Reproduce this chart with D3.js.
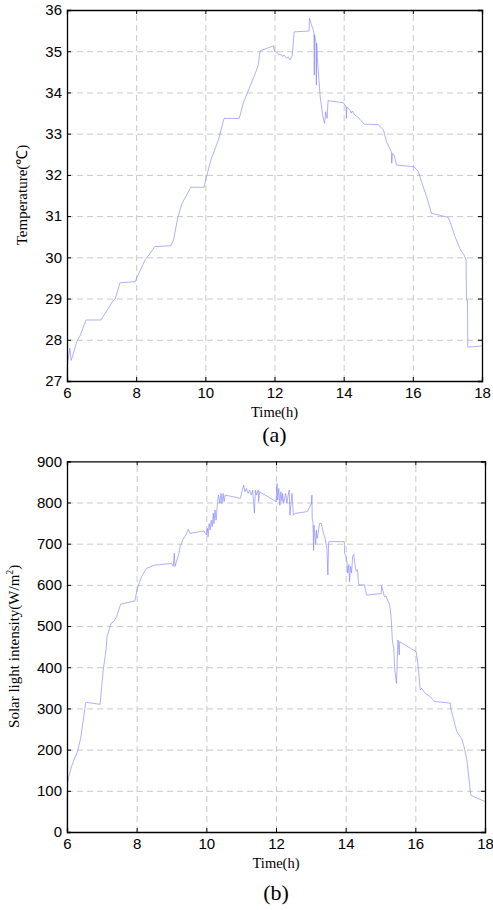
<!DOCTYPE html>
<html>
<head>
<meta charset="utf-8">
<script src="https://cdn.jsdelivr.net/npm/d3@7"></script>
<style>
  body { margin: 0; background: #fff; }
  svg { display: block; }
  .tick text { font-family: "Liberation Sans", Arial, sans-serif; font-size: 15px; fill: #000; }
  .grid line { stroke: #c8c8c8; stroke-dasharray: 6 4; stroke-width: 1; }
  .grid .domain { display: none; }
  .lbl { font-family: "Liberation Serif", "Times New Roman", serif; fill: #000; }
</style>
</head>
<body>
<div id="chart"></div>
<script>
// chart (a): temperature
var tempTime = [6.00, 6.01, 6.08, 6.12, 6.20, 6.28, 6.38, 6.55, 6.98, 7.15, 7.34, 7.40, 7.53, 7.97,
  8.10, 8.26, 8.30, 8.54, 9.00, 9.08, 9.20, 9.32, 9.58, 9.96, 10.06, 10.16, 10.38, 10.54, 10.98,
  11.10, 11.27, 11.48, 11.53, 11.58, 11.97, 12.00, 12.08, 12.12, 12.16, 12.22, 12.28, 12.35, 12.40,
  12.45, 12.51, 12.57, 13.00, 13.01, 13.07, 13.14, 13.15, 13.16, 13.20, 13.21, 13.22, 13.24, 13.32,
  13.40, 13.45, 13.48, 13.52, 13.55, 13.99, 14.07, 14.08, 14.09, 14.18, 14.22, 14.25, 14.32, 14.38,
  14.47, 14.59, 15.00, 15.15, 15.24, 15.38, 15.39, 15.41, 15.46, 15.53, 15.97, 16.03, 16.16, 16.25,
  16.40, 16.54, 17.02, 17.09, 17.22, 17.38, 17.48, 17.54, 17.55, 17.58, 17.59, 18.00]
var tempValue = [27.1, 27.4, 27.8, 27.5, 27.7, 27.95, 28.1, 28.48, 28.48, 28.7, 28.96, 29.0, 29.38, 29.41,
  29.65, 29.94, 29.98, 30.26, 30.28, 30.42, 30.95, 31.3, 31.7, 31.7, 32.04, 32.36, 32.85, 33.37, 33.37,
  33.75, 34.1, 34.54, 34.66, 35.01, 35.13, 34.99, 34.97, 34.92, 34.93, 34.88, 34.9, 34.83, 34.86,
  34.79, 34.88, 35.47, 35.49, 35.8, 35.64, 35.47, 34.42, 35.4, 35.19, 34.18, 35.2, 34.83, 33.9,
  33.41, 33.25, 33.53, 33.37, 33.8, 33.75, 33.65, 33.37, 33.65, 33.57, 33.5, 33.55, 33.45, 33.42,
  33.35, 33.23, 33.22, 33.09, 32.8, 32.56, 32.28, 32.52, 32.48, 32.24, 32.2, 32.2, 32.08, 31.83,
  31.47, 31.07, 30.97, 30.83, 30.5, 30.18, 30.06, 29.94, 28.96, 28.96, 27.82, 27.85]

// chart (b): solar light intensity (rows of the two arrays line up)
var solarTime = [
  6.00, 6.00, 6.02, 6.05, 6.13, 6.20, 6.30, 6.39, 6.54, 6.95, 7.04, 7.12, 7.15, 7.26, 7.33, 7.42, 7.54,
  7.95, 8.02, 8.14, 8.28, 8.52, 9.00, 9.05, 9.08, 9.10, 9.20, 9.25, 9.32, 9.41, 9.48, 9.53,
  9.93, 10.00, 10.03, 10.05, 10.08, 10.11, 10.14, 10.17, 10.20, 10.22, 10.25, 10.28, 10.32, 10.35, 10.39, 10.42, 10.45, 10.48, 10.51, 10.54,
  10.98, 11.02, 11.07, 11.11, 11.15, 11.20, 11.24, 11.29, 11.33, 11.38, 11.41, 11.44, 11.49, 11.50, 11.53,
  12.00, 12.03, 12.05, 12.08, 12.11, 12.14, 12.17, 12.19, 12.22, 12.28, 12.31, 12.35, 12.38, 12.40, 12.43, 12.46, 12.50, 12.55, 12.60, 12.90,
  13.02, 13.03, 13.04, 13.06, 13.08, 13.09, 13.10, 13.14, 13.16, 13.18, 13.21, 13.25, 13.30, 13.35, 13.41, 13.46, 13.49, 13.51, 13.52,
  13.96, 13.97, 14.01, 14.04, 14.06, 14.09, 14.11, 14.14, 14.17, 14.20, 14.23, 14.26, 14.30, 14.34, 14.36, 14.38, 14.54, 14.60,
  15.02, 15.03, 15.08, 15.11, 15.16, 15.20, 15.25, 15.28, 15.31, 15.34, 15.38, 15.41, 15.46, 15.50, 15.54, 15.55,
  16.02, 16.06, 16.10, 16.14, 16.18, 16.28, 16.42, 16.55, 17.00, 17.02, 17.09, 17.19, 17.26, 17.33, 17.40, 17.48, 17.55, 17.59, 17.67, 18.00]
var solarValue = [
  0, 78, 118, 134, 159, 175, 195, 227, 315, 310, 393, 442, 474, 506, 510, 522, 553,
  561, 592, 620, 640, 648, 652, 645, 677, 645, 672, 693, 709, 721, 735, 725,
  731, 721, 737, 717, 749, 733, 757, 741, 774, 749, 782, 757, 798, 818, 798, 822, 798, 822, 802, 818,
  810, 826, 842, 826, 834, 822, 830, 818, 830, 774, 830, 818, 830, 802, 826,
  802, 846, 806, 834, 793, 826, 802, 822, 798, 822, 798, 818, 830, 769, 798, 822, 769, 774, 774, 778,
  798, 818, 761, 753, 684, 745, 737, 697, 733, 713, 725, 749, 749, 729, 713, 689, 624, 701, 705,
  705, 677, 669, 653, 629, 649, 608, 645, 629, 669, 674, 653, 633, 637, 612, 600, 600, 575,
  579, 597, 583, 571, 573, 563, 555, 542, 514, 466, 446, 393, 361, 466, 430, 462,
  438, 417, 385, 345, 349, 337, 329, 317, 313, 300, 276, 244, 235, 227, 207, 175, 122, 90, 86, 74]

var xTicks = [6, 8, 10, 12, 14, 16, 18]
var tempTicks = [27, 28, 29, 30, 31, 32, 33, 34, 35, 36]
var solarTicks = [0, 100, 200, 300, 400, 500, 600, 700, 800, 900]

var svg = d3.select("#chart").append("svg")
  .attr("width", 493)
  .attr("height", 910)

function drawPanel(opt) {
  var w = opt.width, h = opt.height

  var x = d3.scaleLinear().domain([6, 18]).range([0, w])
  var y = d3.scaleLinear().domain(opt.yDomain).range([h, 0])

  var g = svg.append("g")
    .attr("transform", "translate(" + opt.left + "," + opt.top + ")")

  // dashed grid
  g.append("g").attr("class", "grid")
    .attr("transform", "translate(0," + h + ")")
    .call(d3.axisBottom(x).tickValues(xTicks.slice(1, -1)).tickSize(-h).tickFormat(""))
  g.append("g").attr("class", "grid")
    .call(d3.axisLeft(y).tickValues(opt.yTicks.slice(1, -1)).tickSize(-w).tickFormat(""))

  // data line
  var line = d3.line()
    .x(function(d) { return x(d[0]) })
    .y(function(d) { return y(d[1]) })
  var pts = opt.xs.map(function(t, i) { return [t, opt.ys[i]] })
  g.append("path")
    .datum(pts)
    .attr("d", line)
    .attr("fill", "none")
    .attr("stroke", "#7878ff")
    .attr("stroke-width", 0.6)
    .attr("stroke-linejoin", "round")

  // box axes, ticks pointing inward
  g.append("g").attr("transform", "translate(0," + h + ")")
    .call(d3.axisBottom(x).tickValues(xTicks).tickSize(-4).tickPadding(6))
  g.append("g")
    .call(d3.axisLeft(y).tickValues(opt.yTicks).tickSize(-4).tickPadding(5))
  g.append("g")
    .call(d3.axisTop(x).tickValues(xTicks).tickSize(-4).tickFormat(""))
  g.append("g").attr("transform", "translate(" + w + ",0)")
    .call(d3.axisRight(y).tickValues(opt.yTicks).tickSize(-4).tickFormat(""))
  g.selectAll(".domain").attr("stroke", "#000").attr("stroke-width", 1.3)
  g.selectAll(".tick line").filter(function() { return !this.closest(".grid") })
    .attr("stroke", "#000")

  // labels
  g.append("text").attr("class", "lbl")
    .attr("x", w / 2).attr("y", h + 36)
    .attr("text-anchor", "middle")
    .style("font-size", "14.5px")
    .text("Time(h)")
  g.append("text").attr("class", "lbl")
    .attr("x", w / 2).attr("y", h + opt.capDy)
    .attr("text-anchor", "middle")
    .style("font-size", "22px")
    .text(opt.caption)

  var yl = g.append("text").attr("class", "lbl")
    .attr("transform", "translate(" + opt.yLabelX + "," + opt.yLabelY + ") rotate(-90)")
    .attr("text-anchor", "middle")
    .style("font-size", "15px")
  opt.yLabel(yl)
}

drawPanel({
  left: 67, top: 10, width: 415, height: 371,
  yDomain: [27, 36], yTicks: tempTicks,
  xs: tempTime, ys: tempValue,
  caption: "(a)", capDy: 61,
  yLabelX: -40, yLabelY: 185,
  yLabel: function(t) { t.text("Temperature(℃)") }
})

drawPanel({
  left: 67, top: 461.3, width: 418, height: 370.7,
  yDomain: [0, 900], yTicks: solarTicks,
  xs: solarTime, ys: solarValue,
  caption: "(b)", capDy: 68,
  yLabelX: -48, yLabelY: 185,
  yLabel: function(t) {
    t.append("tspan").text("Solar light intensity(W/m")
    t.append("tspan").attr("dy", -6).style("font-size", "10px").text("2")
    t.append("tspan").attr("dy", 6).text(")")
  }
})
</script>
</body>
</html>
